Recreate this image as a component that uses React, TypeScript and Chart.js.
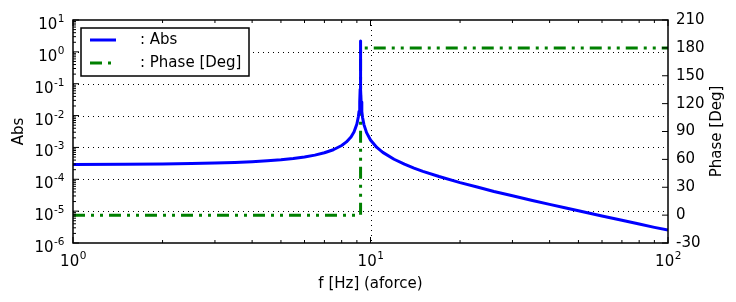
import React, { useEffect, useRef } from 'react';
import { Chart, registerables } from 'chart.js';
Chart.register(...registerables);

// Frequency [Hz] samples of the amplitude curve
const freq = [1, 1.5, 2, 2.5, 3, 3.5, 4, 4.5, 5, 5.5, 6, 6.5, 7, 7.5, 8, 8.3, 8.6, 8.8, 9.0, 9.1, 9.15, 9.2, 9.23, 9.25, 9.27, 9.3, 9.35, 9.4, 9.5, 9.7, 10, 10.5, 11, 12, 13, 14, 15, 17, 20, 23, 26, 30, 35, 40, 45, 50, 60, 70, 80, 90, 100];
const absVals = [2.93e-4, 2.98e-4, 3.04e-4, 3.13e-4, 3.24e-4, 3.39e-4, 3.57e-4, 3.8e-4, 4.1e-4, 4.49e-4, 5.0e-4, 5.73e-4, 6.79e-4, 8.47e-4, 1.15e-3, 1.49e-3, 2.14e-3, 3.06e-3, 5.44e-3, 9.0e-3, 1.35e-2, 2.69e-2, 6.7e-2, 2.2, 6.7e-2, 2.68e-2, 1.34e-2, 8.9e-3, 5.3e-3, 2.92e-3, 1.72e-3, 1.0e-3, 7.0e-4, 4.25e-4, 2.97e-4, 2.24e-4, 1.77e-4, 1.22e-4, 7.84e-5, 5.6e-5, 4.15e-5, 3.03e-5, 2.17e-5, 1.63e-5, 1.28e-5, 1.03e-5, 7.05e-6, 5.15e-6, 3.93e-6, 3.1e-6, 2.55e-6];

// Phase [Deg]
const phaseFreq = [1, 9.26, 9.26, 100];
const phaseVals = [0, 0, 180, 180];

// Axis ticks
const xMajor = [1, 10, 100];
const xExp = ['0', '1', '2'];
const yMajor = [1e-6, 1e-5, 1e-4, 1e-3, 1e-2, 1e-1, 1e0, 1e1];
const yExp = ['-6', '-5', '-4', '-3', '-2', '-1', '0', '1'];
const phaseTicks = [-30, 0, 30, 60, 90, 120, 150, 180, 210];

const seriesNames = [': Abs', ': Phase [Deg]'];
const BLUE = '#0000ff';
const GREEN = '#008000';
const DASH = [12, 6, 3, 6, 3, 6];
const FONT = '"DejaVu Sans", sans-serif';
const FS = 15;
const FE = 10.5;

function drawPow(ctx: CanvasRenderingContext2D, exp: string, x: number, y: number, align: 'center' | 'right') {
  ctx.font = `${FS}px ${FONT}`;
  const wb = ctx.measureText('10').width;
  ctx.font = `${FE}px ${FONT}`;
  const we = ctx.measureText(exp).width;
  const total = wb + we;
  const x0 = align === 'center' ? x - total / 2 : x - total;
  ctx.textAlign = 'left';
  ctx.textBaseline = 'alphabetic';
  ctx.font = `${FS}px ${FONT}`;
  ctx.fillText('10', x0, y);
  ctx.font = `${FE}px ${FONT}`;
  ctx.fillText(exp, x0 + wb + 0.5, y - 7);
}

const decor = {
  id: 'decor',
  beforeDatasetsDraw(chart: any) {
    const ctx = chart.ctx as CanvasRenderingContext2D;
    const { left, right, top, bottom } = chart.chartArea;
    const xs = chart.scales.x, ys = chart.scales.y;
    ctx.save();
    ctx.strokeStyle = '#000';
    ctx.lineWidth = 1;
    ctx.setLineDash([1, 4]);
    xMajor.forEach((v) => {
      const px = Math.round(xs.getPixelForValue(v)) + 0.5;
      if (px <= left + 1 || px >= right - 1) return;
      ctx.beginPath(); ctx.moveTo(px, top); ctx.lineTo(px, bottom); ctx.stroke();
    });
    yMajor.forEach((v) => {
      const py = Math.round(ys.getPixelForValue(v)) + 0.5;
      if (py <= top + 1 || py >= bottom - 1) return;
      ctx.beginPath(); ctx.moveTo(left, py); ctx.lineTo(right, py); ctx.stroke();
    });
    ctx.restore();
  },
  afterDatasetsDraw(chart: any) {
    const ctx = chart.ctx as CanvasRenderingContext2D;
    const { left, right, top, bottom } = chart.chartArea;
    const xs = chart.scales.x, ys = chart.scales.y, yr = chart.scales.y1;
    ctx.save();
    ctx.strokeStyle = '#000';
    ctx.lineWidth = 1;
    ctx.setLineDash([]);
    const MJ = 6, MN = 3;
    // x ticks (bottom & top)
    for (let d = 0; d < xMajor.length; d++) {
      const base = xMajor[d];
      const px = xs.getPixelForValue(base);
      ctx.beginPath();
      ctx.moveTo(px, bottom); ctx.lineTo(px, bottom - MJ);
      ctx.moveTo(px, top); ctx.lineTo(px, top + MJ);
      ctx.stroke();
      if (d < xMajor.length - 1) {
        for (let m = 2; m <= 9; m++) {
          const p = xs.getPixelForValue(base * m);
          ctx.beginPath();
          ctx.moveTo(p, bottom); ctx.lineTo(p, bottom - MN);
          ctx.moveTo(p, top); ctx.lineTo(p, top + MN);
          ctx.stroke();
        }
      }
    }
    // left y ticks
    for (let d = 0; d < yMajor.length; d++) {
      const base = yMajor[d];
      const py = ys.getPixelForValue(base);
      ctx.beginPath(); ctx.moveTo(left, py); ctx.lineTo(left + MJ, py); ctx.stroke();
      if (d < yMajor.length - 1) {
        for (let m = 2; m <= 9; m++) {
          const p = ys.getPixelForValue(base * m);
          ctx.beginPath(); ctx.moveTo(left, p); ctx.lineTo(left + MN, p); ctx.stroke();
        }
      }
    }
    // right ticks
    phaseTicks.forEach((v) => {
      const py = yr.getPixelForValue(v);
      ctx.beginPath(); ctx.moveTo(right, py); ctx.lineTo(right - MJ, py); ctx.stroke();
    });
    // frame
    ctx.lineWidth = 1.5;
    ctx.strokeRect(left, top, right - left, bottom - top);

    // tick labels
    ctx.fillStyle = '#000';
    xMajor.forEach((v, i) => drawPow(ctx, xExp[i], xs.getPixelForValue(v), bottom + 23, 'center'));
    yMajor.forEach((v, i) => drawPow(ctx, yExp[i], left - 9, ys.getPixelForValue(v) + 9, 'right'));
    ctx.font = `${FS}px ${FONT}`;
    ctx.textAlign = 'left';
    ctx.textBaseline = 'middle';
    phaseTicks.forEach((v) => ctx.fillText(String(v), right + 8, yr.getPixelForValue(v)));

    // axis titles
    ctx.font = `${FS}px ${FONT}`;
    ctx.textAlign = 'center';
    ctx.textBaseline = 'middle';
    ctx.fillText('f [Hz] (aforce)', (left + right) / 2, bottom + 41);
    ctx.save();
    ctx.translate(19, (top + bottom) / 2);
    ctx.rotate(-Math.PI / 2);
    ctx.fillText('Abs', 0, 0);
    ctx.restore();
    ctx.save();
    ctx.translate(717, (top + bottom) / 2);
    ctx.rotate(-Math.PI / 2);
    ctx.fillText('Phase [Deg]', 0, 0);
    ctx.restore();

    // legend
    const lx = left + 8, ly = top + 8, lw = 168, lh = 48;
    ctx.fillStyle = '#fff';
    ctx.fillRect(lx, ly, lw, lh);
    ctx.lineWidth = 1.5;
    ctx.strokeStyle = '#000';
    ctx.strokeRect(lx, ly, lw, lh);
    ctx.lineWidth = 3;
    ctx.strokeStyle = BLUE;
    ctx.beginPath(); ctx.moveTo(lx + 9, ly + 12); ctx.lineTo(lx + 35, ly + 12); ctx.stroke();
    ctx.strokeStyle = GREEN;
    ctx.setLineDash(DASH);
    ctx.beginPath(); ctx.moveTo(lx + 9, ly + 35); ctx.lineTo(lx + 35, ly + 35); ctx.stroke();
    ctx.setLineDash([]);
    ctx.fillStyle = '#000';
    ctx.font = `${FS}px ${FONT}`;
    ctx.textAlign = 'left';
    ctx.textBaseline = 'middle';
    ctx.fillText(seriesNames[0], lx + 59, ly + 12);
    ctx.fillText(seriesNames[1], lx + 59, ly + 35);
    ctx.restore();
  },
};

export default function App() {
  const ref = useRef<HTMLCanvasElement>(null);
  useEffect(() => {
    if (!ref.current) return;
    const chart = new Chart(ref.current, {
      type: 'line',
      data: {
        datasets: [
          {
            label: seriesNames[0],
            data: freq.map((f, i) => ({ x: f, y: absVals[i] })),
            borderColor: BLUE,
            borderWidth: 3,
            pointRadius: 0,
            yAxisID: 'y',
            tension: 0,
            borderJoinStyle: 'round',
          },
          {
            label: seriesNames[1],
            data: phaseFreq.map((f, i) => ({ x: f, y: phaseVals[i] })),
            borderColor: GREEN,
            borderWidth: 3,
            borderDash: DASH,
            pointRadius: 0,
            yAxisID: 'y1',
            tension: 0,
          },
        ],
      },
      options: {
        responsive: false,
        animation: false,
        events: [],
        layout: { padding: { top: 20, left: 0, right: 0, bottom: 0 } },
        plugins: { legend: { display: false }, tooltip: { enabled: false } },
        scales: {
          x: {
            type: 'logarithmic', min: 1, max: 100, position: 'bottom',
            ticks: { display: false }, grid: { display: false }, border: { display: false },
            afterFit: (s: any) => { s.height = 59; },
          },
          y: {
            type: 'logarithmic', min: 1e-6, max: 10, position: 'left',
            ticks: { display: false }, grid: { display: false }, border: { display: false },
            afterFit: (s: any) => { s.width = 73; },
          },
          y1: {
            type: 'linear', min: -30, max: 210, position: 'right',
            ticks: { display: false }, grid: { display: false }, border: { display: false },
            afterFit: (s: any) => { s.width = 68; },
          },
        },
      },
      plugins: [decor],
    } as any);
    return () => chart.destroy();
  }, []);
  return (
    <div style={{ position: 'absolute', left: 0, top: 0, width: 736, height: 302, background: '#fff' }}>
      <canvas ref={ref} width={736} height={302} style={{ width: 736, height: 302 }} />
    </div>
  );
}
